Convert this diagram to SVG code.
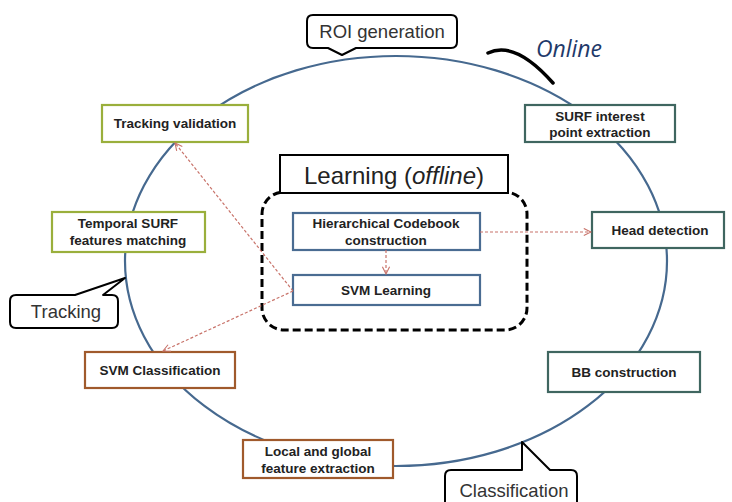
<svg xmlns="http://www.w3.org/2000/svg" width="732" height="502" viewBox="0 0 732 502">
<style>
.box{fill:#fff;stroke-width:2.2}
.olive{stroke:#9AAF3C}
.teal{stroke:#3F6660}
.brown{stroke:#A05A2C}
.blue{stroke:#4A6C92}
.t{font-family:"Liberation Sans",Arial,sans-serif;font-weight:bold;font-size:13.5px;fill:#222;text-anchor:middle}
.call{fill:#fff;stroke:#000;stroke-width:2;stroke-linejoin:round}
.ct{font-family:"Liberation Sans",Arial,sans-serif;font-size:18.5px;fill:#333;text-anchor:middle}
.arr{fill:none;stroke:#C8736A;stroke-width:1.2;stroke-dasharray:3 2;marker-end:url(#ah)}
</style>
<defs>
<marker id="ah" viewBox="0 0 10 10" refX="9" refY="5" markerWidth="9" markerHeight="9" markerUnits="userSpaceOnUse" orient="auto">
<path d="M1,1 L9,5 L1,9" fill="none" stroke="#C8736A" stroke-width="1.2"/>
</marker>
</defs>
<rect width="732" height="502" fill="#fff"/>
<g id="cycle">
<ellipse cx="396" cy="261" rx="271" ry="205" fill="none" stroke="#46698F" stroke-width="2.2"/>
</g>
<g id="online">
<path d="M488,53 Q515,40 553,83" fill="none" stroke="#000" stroke-width="3.5" stroke-linecap="round"/>
<text x="569" y="57" font-family="'Open Sans','Liberation Sans',sans-serif" font-style="italic" font-size="23" fill="#1F3A6A" text-anchor="middle">Online</text>
</g>
<g id="roi">
<path class="call" d="M313,15 H451 Q457,15 457,21 V42 Q457,48 451,48 H356 L342,55 L328,48 H313 Q307,48 307,42 V21 Q307,15 313,15 Z"/>
<text class="ct" x="382" y="38" font-size="15">ROI generation</text>
</g>
<g id="tracking-callout">
<path class="call" d="M16,295 H75 L125,278 L103,295 H112 Q118,295 118,301 V322 Q118,328 112,328 H16 Q10,328 10,322 V301 Q10,295 16,295 Z"/>
<text class="ct" x="66" y="318">Tracking</text>
</g>
<g id="classification-callout">
<path class="call" d="M451,470 H522 V442 L550,470 H571 Q577,470 577,476 V512 H445 V476 Q445,470 451,470 Z"/>
<text class="ct" x="514" y="497">Classification</text>
</g>
<g id="learning">
<rect x="262" y="192" width="265" height="138" rx="22" fill="none" stroke="#000" stroke-width="3" stroke-dasharray="8 4"/>
<rect x="280" y="155" width="228" height="38" fill="#fff" stroke="#000" stroke-width="2"/>
<text x="394" y="184" font-family="'Liberation Sans',Arial,sans-serif" font-size="24" fill="#222" text-anchor="middle">Learning (<tspan font-style="italic">offline</tspan>)</text>
</g>
<g id="codebook">
<rect class="box blue" x="293" y="213" width="187" height="37"/>
<text class="t" x="386" y="228">Hierarchical Codebook</text>
<text class="t" x="386" y="245">construction</text>
</g>
<g id="svm-learning">
<rect class="box blue" x="293" y="275" width="187" height="30"/>
<text class="t" x="386" y="295">SVM Learning</text>
</g>
<g id="tracking-validation">
<rect class="box olive" x="102" y="105" width="146" height="37"/>
<text class="t" x="175" y="128">Tracking validation</text>
</g>
<g id="temporal-surf">
<rect class="box olive" x="52" y="212" width="153" height="40"/>
<text class="t" x="128" y="228">Temporal SURF</text>
<text class="t" x="128" y="245">features matching</text>
</g>
<g id="surf-interest">
<rect class="box teal" x="525" y="105" width="150" height="37"/>
<text class="t" x="600" y="121">SURF interest</text>
<text class="t" x="600" y="137">point extraction</text>
</g>
<g id="head-detection">
<rect class="box teal" x="592" y="212" width="132" height="36"/>
<text class="t" x="660" y="235">Head detection</text>
</g>
<g id="bb-construction">
<rect class="box teal" x="548" y="352" width="152" height="40"/>
<text class="t" x="624" y="377">BB construction</text>
</g>
<g id="svm-classification">
<rect class="box brown" x="85" y="352" width="150" height="36"/>
<text class="t" x="160" y="375">SVM Classification</text>
</g>
<g id="local-global">
<rect class="box brown" x="243" y="440" width="150" height="38"/>
<text class="t" x="318" y="456">Local and global</text>
<text class="t" x="318" y="473">feature extraction</text>
</g>
<g id="connectors">
<path class="arr" d="M480,232 H591"/>
<path class="arr" d="M386,250 V274"/>
<path class="arr" d="M293,291 L175,143"/>
<path class="arr" d="M293,291 L163,351"/>
</g>
</svg>
